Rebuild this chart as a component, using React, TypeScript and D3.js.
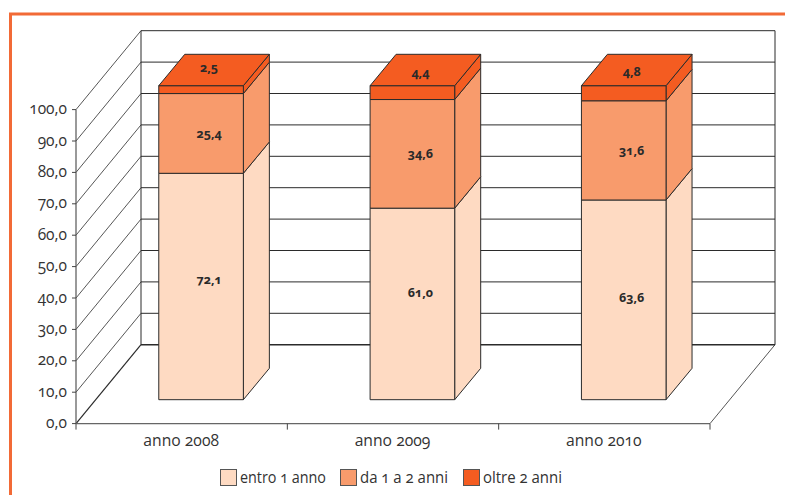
import React from 'react';
import * as d3 from 'd3';

const categories = ['anno 2008', 'anno 2009', 'anno 2010'];
const seriesNames = ['entro 1 anno', 'da 1 a 2 anni', 'oltre 2 anni'];
const within1 = [72.1, 61.0, 63.6];
const from1to2 = [25.4, 34.6, 31.6];
const over2 = [2.5, 4.4, 4.8];
const ticks = d3.range(0, 101, 10);
const colors = ['#fedac2', '#f89b6c', '#f45c21'];

const ink = '#2b2b2b';
const font = '"Open Sans", sans-serif';
const width = 785;
const height = 495;

const plot = { left: 76, right: 710, top: 109.6, bottom: 423.6 };
const depth = { dx: 65, dy: -78.9 };
const bar = { width: 84.6, dx: 26, dy: -31.4, shift: 19.4, lift: 23.9 };

// hand nudges for the labels, the chart does not centre them
const bottomNudge = [-7, -11, -2];
const topNudge = [-2.5, 2, 1];
const legendX = [220.5, 340.5, 463.5];
const legendTextWidth = [86, 88, 79];

const fmt = (v: number) => v.toFixed(1).replace('.', ',');
const pts = (p: number[][]) => p.map((d) => d.join(',')).join(' ');

const Label = ({ x, y, children, ...rest }: any) => (
	<text x={x} y={y} fontFamily={font} textAnchor="middle" dominantBaseline="central"
		style={{ fontFeatureSettings: '"onum"' }} {...rest}>{children}</text>
);

const App = () => {
	const x = d3.scaleBand().domain(categories).range([plot.left, plot.right]);
	const y = d3.scaleLinear().domain([0, 100]).range([plot.bottom, plot.top]);
	const unit = y(0) - y(1);
	const stack = categories.map((_, i) => [within1[i], from1to2[i], over2[i]]);

	return (
		<svg width={width} height={height} style={{ position: 'absolute', left: 0, top: 0, background: '#fff' }}>
			{/* page frame */}
			<path d={`M10.5 ${height}V14H${width}`} fill="none" stroke="#f26a36" strokeWidth={3}/>

			{/* left wall and floor */}
			{ticks.map((t) => (
				<line key={t} x1={plot.left} y1={y(t)} x2={plot.left + depth.dx} y2={y(t) + depth.dy}
					stroke={ink} strokeWidth={t === 0 ? 1.2 : 0.8}/>
			))}
			{/* back wall */}
			{ticks.map((t) => (
				<line key={t} x1={plot.left + depth.dx} y1={y(t) + depth.dy} x2={plot.right + depth.dx} y2={y(t) + depth.dy}
					stroke={ink} strokeWidth={t === 0 ? 1.6 : 1}/>
			))}
			<line x1={plot.left + depth.dx} y1={y(0) + depth.dy} x2={plot.left + depth.dx} y2={y(100) + depth.dy} stroke={ink}/>
			<line x1={plot.right + depth.dx} y1={y(0) + depth.dy} x2={plot.right + depth.dx} y2={y(100) + depth.dy} stroke={ink}/>
			<line x1={plot.right} y1={y(0)} x2={plot.right + depth.dx} y2={y(0) + depth.dy} stroke={ink} strokeWidth={0.8}/>

			{/* axes */}
			<line x1={plot.left} y1={y(0)} x2={plot.left} y2={y(100)} stroke="#555" strokeWidth={1.2}/>
			<line x1={plot.left} y1={y(0)} x2={plot.right} y2={y(0)} stroke="#666" strokeWidth={1.2}/>
			{ticks.map((t) => (
				<g key={t}>
					<line x1={plot.left - 4} y1={y(t)} x2={plot.left} y2={y(t)} stroke="#444"/>
					<Label x={plot.left - 9} y={y(t) - 1.5} textAnchor="end" fontSize={15.5} fill="#333">{fmt(t)}</Label>
				</g>
			))}
			{[...categories.map((c) => x(c) as number), plot.right].map((px) => (
				<line key={px} x1={px} y1={y(0)} x2={px} y2={y(0) + 6} stroke="#444"/>
			))}
			{categories.map((c) => (
				<Label key={c} x={(x(c) as number) + x.bandwidth() / 2 - 0.5} y={y(0) + 16.5} fontSize={15.7} fill="#333">{c}</Label>
			))}

			{/* bars */}
			{categories.map((c, i) => {
				const left = (x(c) as number) + x.bandwidth() / 2 + bar.shift - bar.width / 2;
				const right = left + bar.width;
				let acc = 0;
				return (
					<g key={c} stroke={ink} strokeWidth={1} strokeLinejoin="round">
						{stack[i].map((v, s) => {
							const bottom = y(0) - bar.lift - acc * unit;
							acc += v;
							const top = y(0) - bar.lift - acc * unit;
							return (
								<g key={s} fill={colors[s]}>
									<polygon points={pts([[right, bottom], [right + bar.dx, bottom + bar.dy], [right + bar.dx, top + bar.dy], [right, top]])}/>
									<rect x={left} y={top} width={bar.width} height={bottom - top}/>
									{s === 2 && (
										<polygon points={pts([[left, top], [left + bar.dx, top + bar.dy], [right + bar.dx, top + bar.dy], [right, top]])}/>
									)}
								</g>
							);
						})}
					</g>
				);
			})}

			{/* value labels */}
			{categories.map((c, i) => {
				const cx = (x(c) as number) + x.bandwidth() / 2 + bar.shift + 8;
				let acc = 0;
				return stack[i].map((v, s) => {
					const mid = y(0) - bar.lift - (acc + v / 2) * unit;
					const top = y(0) - bar.lift - (acc + v) * unit;
					acc += v;
					const ly = s === 0 ? mid + bottomNudge[i] : s === 1 ? mid : top + bar.dy / 2 + topNudge[i];
					return (
						<Label key={s} x={cx} y={ly} fontSize={12.5} fontWeight={700} fill="#2a2a2a">{fmt(v)}</Label>
					);
				});
			})}

			{/* legend */}
			{seriesNames.map((name, i) => (
				<g key={name}>
					<rect x={legendX[i]} y={469.5} width={16} height={16} fill={colors[i]} stroke="#555"/>
					<text x={legendX[i] + 19.5} y={476.5} fontFamily={font} fontSize={16} fill="#333" dominantBaseline="central"
						textLength={legendTextWidth[i]} lengthAdjust="spacingAndGlyphs"
						style={{ fontFeatureSettings: '"onum"' }}>{name}</text>
				</g>
			))}
		</svg>
	);
};

export default App;
